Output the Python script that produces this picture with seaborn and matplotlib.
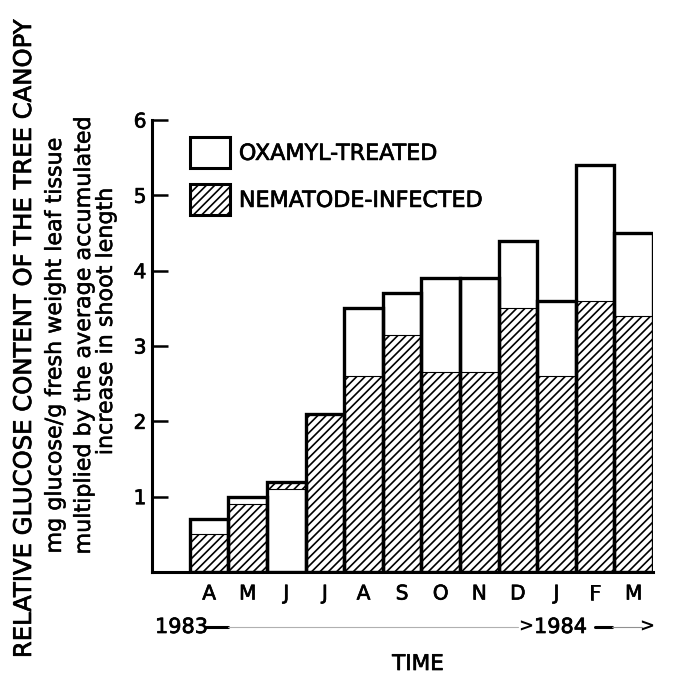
import numpy as np
import pandas as pd
import matplotlib
matplotlib.use("Agg")
import matplotlib.pyplot as plt
import matplotlib.patheffects as pe
import seaborn as sns
from matplotlib.patches import Patch
from matplotlib.lines import Line2D

# ---- data ----
months = ["Apr 1983", "May 1983", "Jun 1983", "Jul 1983", "Aug 1983", "Sep 1983",
          "Oct 1983", "Nov 1983", "Dec 1983", "Jan 1984", "Feb 1984", "Mar 1984"]
month_letters = ["A", "M", "J", "J", "A", "S", "O", "N", "D", "J", "F", "M"]
oxamyl = [0.7, 1.0, 1.1, 2.1, 3.5, 3.7, 3.9, 3.9, 4.4, 3.6, 5.4, 4.5]
nematode = [0.5, 0.9, 1.2, 2.1, 2.6, 3.15, 2.65, 2.65, 3.5, 2.6, 3.6, 3.4]
yticks = [1, 2, 3, 4, 5, 6]
series_labels = ["OXAMYL-TREATED", "NEMATODE-INFECTED"]

sns.set_style("ticks")
plt.rcParams["font.family"] = ["DejaVu Sans"]
plt.rcParams["hatch.linewidth"] = 1.2
for k in ["text.color", "axes.labelcolor", "xtick.color", "ytick.color", "axes.edgecolor"]:
    plt.rcParams[k] = "black"

PE = [pe.withStroke(linewidth=0.5, foreground="black")]
PE_S = [pe.withStroke(linewidth=0.35, foreground="black")]

W, H = 689, 677
fig = plt.figure(figsize=(W / 100, H / 100), dpi=100)
ax = fig.add_axes([152 / W, 105 / H, 501 / W, 452 / H])

df = pd.DataFrame({"month": months, "oxamyl": oxamyl, "nematode": nematode})
df["outline"] = df[["oxamyl", "nematode"]].max(axis=1)

sns.barplot(data=df, x="month", y="oxamyl", color="white", edgecolor="black",
            linewidth=0.8, width=1.0, errorbar=None, ax=ax)
sns.barplot(data=df, x="month", y="nematode", color="white", edgecolor="black",
            hatch="////", linewidth=0.8, width=1.0, errorbar=None, ax=ax)
sns.barplot(data=df, x="month", y="outline", fill=False, color="black",
            linewidth=2.4, width=1.0, errorbar=None, ax=ax)

n = len(months)
pats = ax.patches
for i in range(n):
    p_ox, p_nem, p_out = pats[i], pats[n + i], pats[2 * n + i]
    if nematode[i] > oxamyl[i]:
        p_ox.set_zorder(2.2); p_nem.set_zorder(2.1)
    else:
        p_nem.set_zorder(2.2); p_ox.set_zorder(2.1)
    p_out.set_zorder(2.5)

ax.set_xlim(-1.48, 11.5)
ax.set_ylim(0, 6)
ax.set_xticks(range(n))
ax.set_xticklabels(month_letters)
ax.set_yticks(yticks)
ax.set_xlabel("")
ax.set_ylabel("")
ax.tick_params(axis="x", length=0, pad=9, labelsize=14.5)
ax.tick_params(axis="y", direction="in", length=11.5, width=1.8, pad=4, labelsize=14.5)
for lab in ax.get_xticklabels() + ax.get_yticklabels():
    lab.set_path_effects(PE)
for s in ["top", "right"]:
    ax.spines[s].set_visible(False)
for s in ["left", "bottom"]:
    ax.spines[s].set_linewidth(2.2)
    ax.spines[s].set_zorder(3)

# legend
handles = [Patch(facecolor="white", edgecolor="black", linewidth=2.2),
           Patch(facecolor="white", edgecolor="black", hatch="////", linewidth=2.2)]
leg = ax.legend(handles, series_labels, loc="upper left",
                bbox_to_anchor=(190 / W, 1 - 137 / H), bbox_transform=fig.transFigure,
                frameon=False, fontsize=16, handlelength=1.8, handleheight=1.8,
                handletextpad=0.4, labelspacing=0.7, borderpad=0, borderaxespad=0)
for t in leg.get_texts():
    t.set_path_effects(PE)

# y labels
fig.text(24 / W, 1 - 339 / H, "RELATIVE GLUCOSE CONTENT OF THE TREE CANOPY",
         rotation=90, ha="center", va="center", fontsize=17.5, path_effects=PE)
fig.text(55 / W, 1 - 345 / H, "mg glucose/g fresh weight leaf tissue",
         rotation=90, ha="center", va="center", fontsize=16, path_effects=PE_S)
fig.text(84 / W, 1 - 335 / H, "multiplied by the average accumulated",
         rotation=90, ha="center", va="center", fontsize=16, path_effects=PE_S)
fig.text(106 / W, 1 - 321 / H, "increase in shoot length",
         rotation=90, ha="center", va="center", fontsize=16, path_effects=PE_S)

# x label and years
fig.text(418 / W, 1 - 664 / H, "TIME", ha="center", va="center", fontsize=15.5, path_effects=PE)
yy = 1 - 627 / H
fig.text(155 / W, yy, "1983", ha="left", va="center", fontsize=15, path_effects=PE)
fig.text(534 / W, yy, "1984", ha="left", va="center", fontsize=15, path_effects=PE)
fig.text(526 / W, yy, ">", ha="center", va="center", fontsize=13, fontweight="bold")
fig.text(647 / W, yy, ">", ha="center", va="center", fontsize=13, fontweight="bold")
fig.add_artist(Line2D([206 / W, 228 / W], [yy, yy], lw=2.2, color="black", transform=fig.transFigure))
fig.add_artist(Line2D([228 / W, 518 / W], [yy, yy], lw=0.8, color="#b0b0b0", transform=fig.transFigure))
fig.add_artist(Line2D([595 / W, 612 / W], [yy, yy], lw=2.2, color="black", transform=fig.transFigure))
fig.add_artist(Line2D([612 / W, 642 / W], [yy, yy], lw=0.8, color="#909090", transform=fig.transFigure))

fig.savefig("out.png", dpi=100)
